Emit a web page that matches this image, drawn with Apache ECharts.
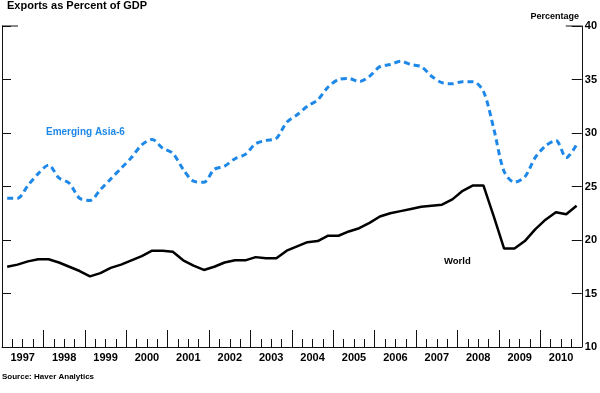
<!DOCTYPE html>
<html>
<head>
<meta charset="utf-8">
<script src="https://cdn.jsdelivr.net/npm/echarts@6/dist/echarts.min.js"></script>
<style>
html,body{margin:0;padding:0;background:#fff;}
#chart{width:600px;height:393px;}
</style>
</head>
<body>
<div id="chart"></div>
<script>
// Tick labels (years)
var years = ['1997','1998','1999','2000','2001','2002','2003','2004','2005','2006','2007','2008','2009','2010'];
var startYear = 1997;
// Quarterly values, 1997 Q1 .. 2010 Q4 (percent of GDP)
var emergingAsia6 = [
  23.9, 23.9, 25.1, 26.2, 27.0, 25.8, 25.3, 23.9,
  23.7, 24.7, 25.7, 26.7, 27.7, 28.9, 29.4, 28.6,
  28.1, 26.6, 25.5, 25.4, 26.6, 26.9, 27.6, 28.0,
  29.0, 29.3, 29.5, 31.0, 31.7, 32.5, 33.1, 34.3,
  35.0, 35.1, 34.8, 35.3, 36.2, 36.4, 36.7, 36.4,
  36.2, 35.3, 34.7, 34.6, 34.8, 34.8, 33.9, 30.4,
  26.4, 25.4, 25.9, 27.7, 28.8, 29.3, 27.7, 28.9
];
var world = [
  17.5, 17.7, 18.0, 18.2, 18.2, 17.9, 17.5, 17.1,
  16.6, 16.9, 17.4, 17.7, 18.1, 18.5, 19.0, 19.0,
  18.9, 18.1, 17.6, 17.2, 17.5, 17.9, 18.1, 18.1,
  18.4, 18.3, 18.3, 19.0, 19.4, 19.8, 19.9, 20.4,
  20.4, 20.8, 21.1, 21.6, 22.2, 22.5, 22.7, 22.9,
  23.1, 23.2, 23.3, 23.8, 24.6, 25.1, 25.1, 22.2,
  19.2, 19.2, 19.9, 21.0, 21.9, 22.6, 22.4, 23.2
];

function toPoints(arr) {
  return arr.map(function (v, i) { return [startYear + (i + 0.5) / 4, v]; });
}

var FONT = '"Liberation Sans", Arial, sans-serif';
var BLUE = '#1e88e8';
var chart = echarts.init(document.getElementById('chart'), null, {renderer: 'canvas'});
var axisLineStyle = {color: '#111', width: 1};

chart.setOption({
  animation: false,
  backgroundColor: '#fff',
  textStyle: {fontFamily: FONT},
  title: [
    {text: 'Exports as Percent of GDP', left: 7, top: 0, padding: 0,
     textStyle: {fontSize: 11, fontWeight: 'bold', color: '#000', fontFamily: FONT}},
    {text: 'Percentage', right: 21, top: 12, padding: 0,
     textStyle: {fontSize: 9, fontWeight: 'bold', color: '#000', fontFamily: FONT}},
    {text: 'Source: Haver Analytics', left: 2, top: 373, padding: 0,
     textStyle: {fontSize: 8, fontWeight: 'bold', color: '#000', fontFamily: FONT}},
    {text: 'Emerging Asia-6', left: 46, top: 127, padding: 0,
     textStyle: {fontSize: 10, fontWeight: 'bold', color: BLUE, fontFamily: FONT}},
    {text: 'World', left: 444, top: 256, padding: 0,
     textStyle: {fontSize: 9.5, fontWeight: 'bold', color: '#000', fontFamily: FONT}}
  ],
  grid: {left: 2, right: 17, top: 26, bottom: 46, containLabel: false},
  xAxis: [
    {
      type: 'value', min: 1997, max: 2011, interval: 1, position: 'bottom',
      axisLine: {show: true, lineStyle: axisLineStyle},
      axisTick: {show: true, inside: true, length: 17, lineStyle: axisLineStyle},
      minorTick: {show: true, splitNumber: 4, length: 8, lineStyle: axisLineStyle},
      axisLabel: {show: false},
      splitLine: {show: false}, minorSplitLine: {show: false}
    },
    {
      type: 'category', data: years, position: 'bottom', boundaryGap: true,
      axisLine: {show: false}, axisTick: {show: false},
      axisLabel: {show: true, margin: 5, fontSize: 11, fontWeight: 'bold', color: '#000', fontFamily: FONT},
      splitLine: {show: false}
    }
  ],
  yAxis: [
    {
      type: 'value', position: 'right', min: 10, max: 40, interval: 5,
      axisLine: {show: true, lineStyle: axisLineStyle},
      axisTick: {show: true, inside: true, length: 10, lineStyle: axisLineStyle},
      axisLabel: {show: true, margin: 3, fontSize: 11, fontWeight: 'bold', color: '#000', fontFamily: FONT},
      splitLine: {show: false}
    },
    {
      type: 'value', position: 'left', min: 10, max: 40, interval: 5,
      axisLine: {show: true, lineStyle: axisLineStyle},
      axisTick: {show: true, inside: true, length: 9, lineStyle: axisLineStyle},
      axisLabel: {show: false},
      splitLine: {show: false}
    }
  ],
  series: [
    {
      name: 'Emerging Asia-6', type: 'line', xAxisIndex: 0, yAxisIndex: 0,
      data: toPoints(emergingAsia6), symbol: 'none', smooth: 0.3,
      lineStyle: {color: BLUE, width: 3, type: [6, 4]}
    },
    {
      name: 'World', type: 'line', xAxisIndex: 0, yAxisIndex: 0,
      data: toPoints(world), symbol: 'none', smooth: false,
      lineStyle: {color: '#000', width: 2.5}
    }
  ]
});

// Short top-corner segments of the frame, derived from the axes
var yTop = chart.convertToPixel({yAxisIndex: 0}, 40);
var xL = chart.convertToPixel({xAxisIndex: 0}, 1997);
var xR = chart.convertToPixel({xAxisIndex: 0}, 2011);
chart.setOption({
  graphic: [
    {type: 'line', shape: {x1: xL, y1: yTop, x2: xL + 16, y2: yTop}, style: {stroke: '#111', lineWidth: 1}},
    {type: 'line', shape: {x1: xR - 16, y1: yTop, x2: xR, y2: yTop}, style: {stroke: '#111', lineWidth: 1}}
  ]
});
</script>
</body>
</html>
